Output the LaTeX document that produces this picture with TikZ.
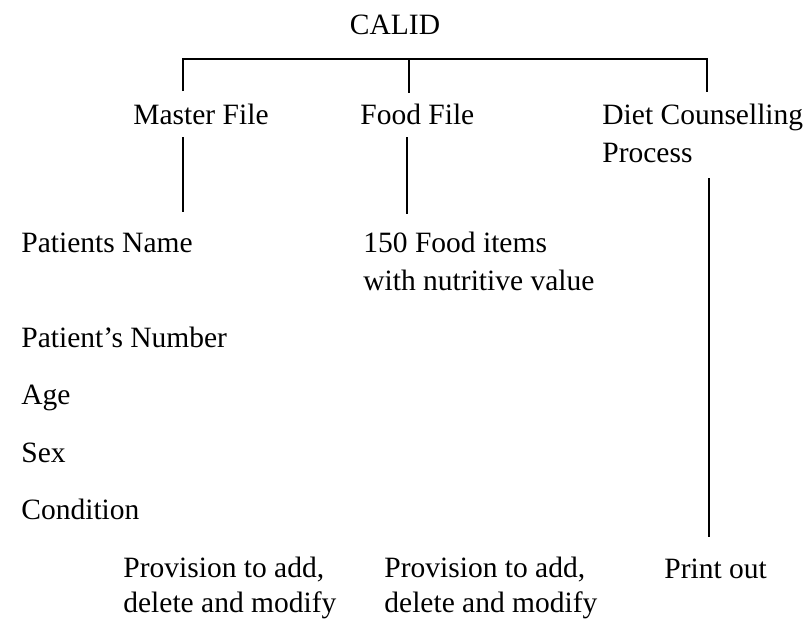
\documentclass[tikz,border=0pt]{standalone}
\usepackage{fontspec}
\setmainfont{Liberation Serif}
\usepackage{tikz}
\usetikzlibrary{calc}

\begin{document}
\begin{tikzpicture}[x=1pt,y=-1pt,line width=2.8pt,
  every node/.style={font=\fontsize{29.5pt}{38pt}\selectfont,inner sep=0pt},
  lbl/.style={anchor=base west,align=left}]
  \useasboundingbox (0,0) rectangle (806,619);
  % CALID -> Master File, Food File, Diet Counselling Process
  \node[anchor=base] (calid) at (395,34) {CALID};
  \node[lbl] (master) at (132,124) {Master File};
  \node[lbl] (food) at (359,124) {Food File};
  \node[lbl] (diet) at (601,162) {Diet Counselling\\Process};
  \node[lbl] (pname) at (20,252) {Patients Name};
  \node[lbl] (pnum) at (20,347) {Patient's Number};
  \node[lbl] (age) at (20,404) {Age};
  \node[lbl] (sex) at (20,462) {Sex};
  \node[lbl] (cond) at (20,519) {Condition};
  \node[lbl] (items) at (362,290) {150 Food items\\with nutritive value};
  \node[lbl,font=\fontsize{29.5pt}{35pt}\selectfont] (provm) at (122,612) {Provision to add,\\delete and modify};
  \node[lbl,font=\fontsize{29.5pt}{35pt}\selectfont] (provf) at (383,612) {Provision to add,\\delete and modify};
  \node[lbl] (print) at (663,578) {Print out};
  \coordinate (barW) at (183,59);
  \coordinate (barM) at (409,59);
  \coordinate (barE) at (707,59);
  \coordinate (mUp) at (183,91);
  \coordinate (fUp) at (409,93);
  \coordinate (dUp) at (707,92);
  \coordinate (mDn) at (183,137);
  \coordinate (mEnd) at (183,212);
  \coordinate (fDn) at (407,137);
  \coordinate (fEnd) at (407,214);
  \coordinate (dDn) at (709,178);
  \coordinate (dEnd) at (709,537);
  \draw (mUp) -- (barW) -- (barE) -- (dUp);
  \draw (barM) -- (fUp);
  \draw (mDn) -- (mEnd);
  \draw (fDn) -- (fEnd);
  \draw (dDn) -- (dEnd);
\end{tikzpicture}
\end{document}
